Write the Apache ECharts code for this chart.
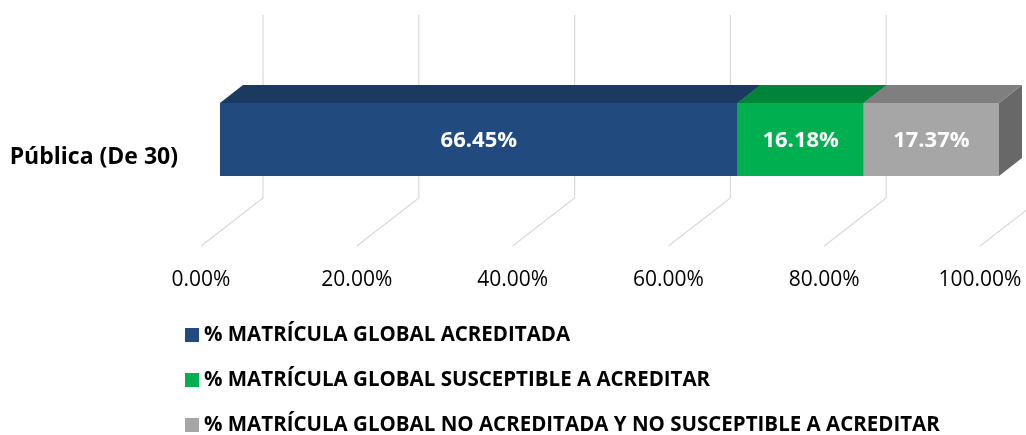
<!DOCTYPE html>
<html>
<head>
<meta charset="utf-8">
<script src="https://cdn.jsdelivr.net/npm/echarts@6/dist/echarts.min.js"></script>
<style>
  html, body { margin: 0; padding: 0; background: #fff; }
  #chart { width: 1026px; height: 435px; }
</style>
</head>
<body>
<div id="chart"></div>
<script>
// Data
const categories = ['Pública (De 30)'];
const acreditada = [66.45];
const susceptible = [16.18];
const noAcreditada = [17.37];
const tickValues = [0, 20, 40, 60, 80, 100];
const seriesNames = [
    '% MATRÍCULA GLOBAL ACREDITADA',
    '% MATRÍCULA GLOBAL SUSCEPTIBLE A ACREDITAR',
    '% MATRÍCULA GLOBAL NO ACREDITADA Y NO SUSCEPTIBLE A ACREDITAR'
];

// 3D look: front, top and side colours per segment
const palette = [
    { front: '#214A7E', top: '#1B3A60', side: '#173357' },
    { front: '#00B050', top: '#00843C', side: '#00713A' },
    { front: '#A6A6A6', top: '#7F7F7F', side: '#686868' }
];
const depthX = 23, depthY = -18;        // bar depth
const floorX = 62, floorY = -48;        // floor depth (gridlines)
const font = '"Open Sans", "Liberation Sans", sans-serif';

const chart = echarts.init(document.getElementById('chart'));

// stack the three series
const allValues = [acreditada, susceptible, noAcreditada];
function segments(idx) {
    return categories.map((c, ci) => {
        let start = 0;
        for (let k = 0; k < idx; k++) start += allValues[k][ci];
        return [start, start + allValues[idx][ci], ci];
    });
}

function renderGrid(params, api) {
    const cs = params.coordSys;
    const x = api.coord([api.value(0), 0])[0];
    const bottom = cs.y + cs.height;
    return {
        type: 'polyline',
        shape: { points: [[x, bottom], [x + floorX, bottom + floorY], [x + floorX, 15]] },
        style: { stroke: '#D9D9D9', lineWidth: 1.2, fill: null }
    };
}

function makeRenderBar(idx) {
    return function (params, api) {
        const cs = params.coordSys;
        const x0 = api.coord([api.value(0), api.value(2)])[0];
        const x1 = api.coord([api.value(1), api.value(2)])[0];
        const top = cs.y, bot = cs.y + cs.height;
        const col = palette[idx];
        const pct = allValues[idx][api.value(2)];
        return {
            type: 'group',
            children: [
                {
                    type: 'polygon',
                    shape: { points: [[x1, top], [x1 + depthX, top + depthY], [x1 + depthX, bot + depthY], [x1, bot]] },
                    style: { fill: col.side }
                },
                {
                    type: 'polygon',
                    shape: { points: [[x0, top], [x1, top], [x1 + depthX, top + depthY], [x0 + depthX, top + depthY]] },
                    style: { fill: col.top }
                },
                {
                    type: 'rect',
                    shape: { x: x0, y: top, width: x1 - x0, height: bot - top },
                    style: { fill: col.front }
                },
                {
                    type: 'text',
                    style: {
                        text: pct.toFixed(2) + '%',
                        x: (x0 + x1) / 2, y: (top + bot) / 2 + 1,
                        align: 'center', verticalAlign: 'middle',
                        fill: '#FFFFFF', font: 'bold 22px ' + font
                    }
                }
            ]
        };
    };
}

const option = {
    backgroundColor: '#FFFFFF',
    animation: false,
    grid: [
        { left: 201, right: 46, top: 68, height: 178 },   // floor front plane
        { left: 220, right: 27, top: 103, height: 73 }    // bar front face
    ],
    xAxis: [
        {
            gridIndex: 0, type: 'value', min: 0, max: 100, interval: 20,
            axisLine: { show: false }, axisTick: { show: false }, splitLine: { show: false },
            axisLabel: {
                margin: 24, color: '#000', fontSize: 21, fontFamily: font,
                formatter: v => v.toFixed(2) + '%'
            }
        },
        { gridIndex: 1, type: 'value', min: 0, max: 100, show: false }
    ],
    yAxis: [
        {
            gridIndex: 0, type: 'category', data: categories,
            axisLine: { show: false }, axisTick: { show: false },
            axisLabel: { margin: 23, color: '#000', fontSize: 23, fontWeight: 'bold', fontFamily: font }
        },
        { gridIndex: 1, type: 'category', data: categories, show: false }
    ],
    legend: {
        orient: 'vertical', left: 185, top: 323, height: 120, itemGap: 21, padding: 0,
        itemWidth: 14, itemHeight: 14, icon: 'rect',
        textStyle: { color: '#000', fontSize: 20.5, fontWeight: 'bold', fontFamily: font, lineHeight: 24 },
        data: seriesNames
    },
    series: [
        {
            type: 'custom', name: 'grid', xAxisIndex: 0, yAxisIndex: 0,
            renderItem: renderGrid, data: tickValues.map(v => [v]), silent: true, z: 1
        }
    ].concat(seriesNames.map((name, i) => ({
        type: 'custom', name: name, xAxisIndex: 1, yAxisIndex: 1,
        itemStyle: { color: palette[i].front },
        renderItem: makeRenderBar(i),
        encode: { x: [0, 1], y: 2 },
        data: segments(i), z: 2 + i
    })))
};

chart.setOption(option);
window.addEventListener('resize', () => chart.resize());
</script>
</body>
</html>
